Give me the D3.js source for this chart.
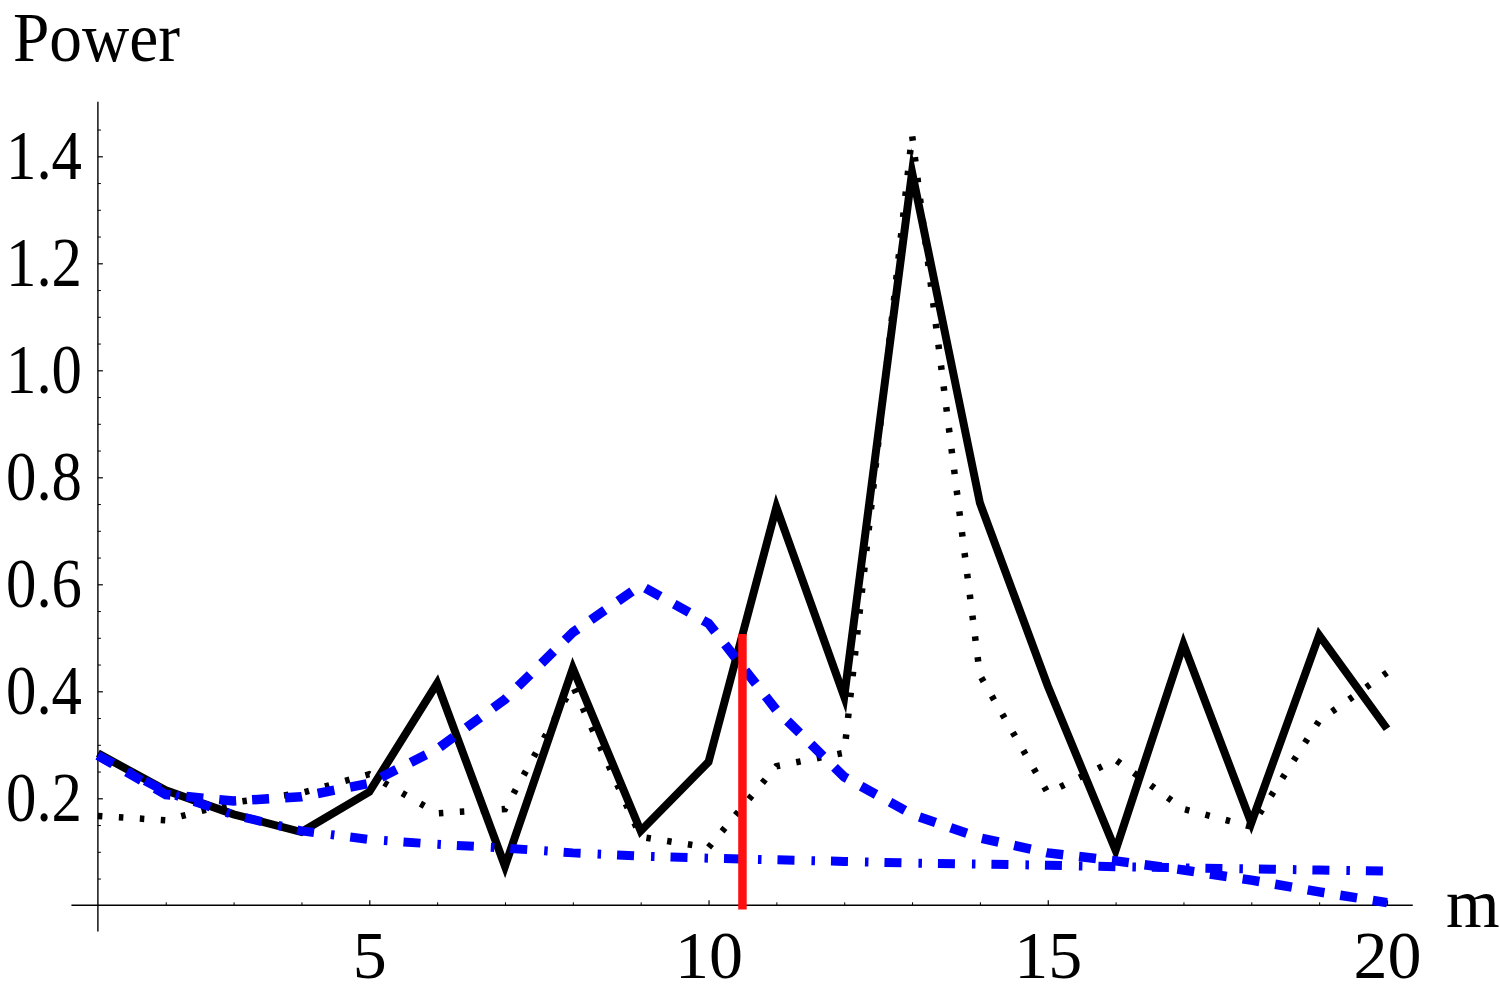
<!DOCTYPE html>
<html>
<head>
	<script src="https://d3js.org/d3.v7.min.js"></script>
	<style>
		body { margin: 0; background: #fff; }
		text { font-family: "Liberation Serif", "Times New Roman", serif; fill: #000; }
	</style>
</head>
<body>
	<div class="CHANGE"></div>
	<script>
		var w = 1500, h = 996;

		// m values along the x axis
		var mValues = [1, 2, 3, 4, 5, 6, 7, 8, 9, 10, 11, 12, 13, 14, 15, 16, 17, 18, 19, 20];
		// black solid
		var solidPower = [0.284, 0.215, 0.170, 0.137, 0.212, 0.415, 0.073, 0.443, 0.139, 0.268, 0.744, 0.390, 1.370, 0.752, 0.410, 0.103, 0.488, 0.154, 0.505, 0.330];
		// black dotted
		var dottedPower = [0.167, 0.159, 0.192, 0.210, 0.245, 0.172, 0.180, 0.410, 0.128, 0.108, 0.260, 0.285, 1.440, 0.430, 0.210, 0.272, 0.180, 0.147, 0.345, 0.435];
		// blue dashed
		var dashedPower = [0.280, 0.207, 0.195, 0.203, 0.228, 0.292, 0.385, 0.510, 0.598, 0.527, 0.365, 0.240, 0.170, 0.126, 0.098, 0.083, 0.066, 0.047, 0.025, 0.005];
		// blue dash-dot
		var dashDotPower = [0.280, 0.212, 0.169, 0.139, 0.123, 0.114, 0.107, 0.098, 0.092, 0.088, 0.085, 0.082, 0.079, 0.077, 0.075, 0.072, 0.070, 0.068, 0.066, 0.064];
		// red marker
		var markerM = 10.5, markerPower = [-0.008, 0.507];

		var xTicks = [5, 10, 15, 20];
		var xMinor = [2, 3, 4, 6, 7, 8, 9, 11, 12, 13, 14, 16, 17, 18, 19];
		var yTicks = [0.2, 0.4, 0.6, 0.8, 1.0, 1.2, 1.4];
		var yMinor = d3.range(1, 30).map(function(i) { return i * 0.05; })
			.filter(function(v) { return Math.abs(v * 5 - Math.round(v * 5)) > 1e-6; });

		var x = d3.scaleLinear().domain([1, 20]).range([97.9, 1387]);
		var y = d3.scaleLinear().domain([0, 1.4]).range([905.3, 156.3]);

		var svg = d3.select(".CHANGE")
			.append("svg")
			.attr("width", w)
			.attr("height", h);

		// axes lines
		svg.append("line")
			.attr("x1", x(0.61)).attr("x2", x(20.38))
			.attr("y1", y(0)).attr("y2", y(0))
			.attr("stroke", "#000").attr("stroke-width", 1.4);
		svg.append("line")
			.attr("x1", x(1)).attr("x2", x(1))
			.attr("y1", y(-0.049)).attr("y2", y(1.502))
			.attr("stroke", "#000").attr("stroke-width", 1.4);

		// x ticks
		var xAxis = svg.append("g").attr("transform", "translate(0," + y(0) + ")");
		xAxis.call(d3.axisBottom(x).tickValues(xTicks).tickSizeInner(-5).tickSizeOuter(0).tickPadding(0).tickFormat(d3.format("d")));
		xAxis.select(".domain").remove();
		xAxis.selectAll(".tick line").attr("stroke-width", 1.2);
		xAxis.selectAll(".tick text")
			.attr("y", 72.5).attr("dy", null)
			.style("font-family", "'Liberation Serif', serif")
			.style("font-size", "68px");
		var xMin = svg.append("g").attr("transform", "translate(0," + y(0) + ")");
		xMin.call(d3.axisBottom(x).tickValues(xMinor).tickSizeInner(-3).tickSizeOuter(0).tickFormat(""));
		xMin.select(".domain").remove();

		// y ticks
		var yAxis = svg.append("g").attr("transform", "translate(" + x(1) + ",0)");
		yAxis.call(d3.axisLeft(y).tickValues(yTicks).tickSizeInner(-5).tickSizeOuter(0).tickPadding(0).tickFormat(d3.format(".1f")));
		yAxis.select(".domain").remove();
		yAxis.selectAll(".tick line").attr("stroke-width", 1.2);
		yAxis.selectAll(".tick text")
			.attr("x", 82 - x(1)).attr("dy", null).attr("y", 22.5)
			.attr("textLength", 76)
			.attr("lengthAdjust", "spacingAndGlyphs")
			.style("font-family", "'Liberation Serif', serif")
			.style("font-size", "69px");
		var yMin = svg.append("g").attr("transform", "translate(" + x(1) + ",0)");
		yMin.call(d3.axisLeft(y).tickValues(yMinor).tickSizeInner(-3).tickSizeOuter(0).tickFormat(""));
		yMin.select(".domain").remove();

		// axis labels
		svg.append("text")
			.attr("x", 13).attr("y", 60.7)
			.attr("textLength", 167)
			.attr("lengthAdjust", "spacingAndGlyphs")
			.style("font-size", "69px")
			.text("Power");
		svg.append("text")
			.attr("x", 1446).attr("y", 927)
			.style("font-size", "69px")
			.text("m");

		var line = d3.line()
			.x(function(d) { return x(d[0]); })
			.y(function(d) { return y(d[1]); });
		function pairs(vals) { return mValues.map(function(m, i) { return [m, vals[i]]; }); }

		var series = [
			{ vals: solidPower, color: "#000", width: 8, dash: null },
			{ vals: dottedPower, color: "#000", width: 6.5, dash: "4.5,16.5" },
			{ vals: dashedPower, color: "#0000ff", width: 9.5, dash: "17,16" },
			{ vals: dashDotPower, color: "#0000ff", width: 9, dash: "17,17,3.5,16" }
		];
		svg.append("g")
			.selectAll("path")
			.data(series)
			.enter()
			.append("path")
			.attr("d", function(d) { return line(pairs(d.vals)); })
			.attr("fill", "none")
			.attr("stroke", function(d) { return d.color; })
			.attr("stroke-width", function(d) { return d.width; })
			.attr("stroke-dasharray", function(d) { return d.dash; })
			.attr("stroke-linejoin", "miter")
			.attr("stroke-miterlimit", 10)
			.attr("stroke-linecap", "butt");

		svg.append("line")
			.attr("x1", x(markerM)).attr("x2", x(markerM))
			.attr("y1", y(markerPower[0])).attr("y2", y(markerPower[1]))
			.attr("stroke", "#ff1010").attr("stroke-width", 8.5);
	</script>
</body>
</html>
